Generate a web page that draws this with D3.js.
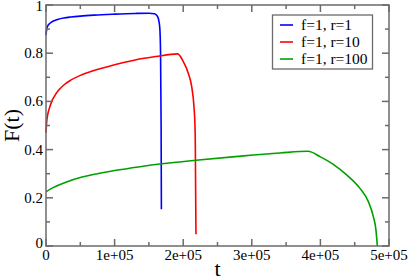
<!DOCTYPE html>
<html>
<head>
<meta charset="utf-8">
<script src="https://cdn.jsdelivr.net/npm/d3@7"></script>
<style>
  body { margin: 0; background: #fff; }
  svg { display: block; font-family: "Liberation Serif", "Times New Roman", serif; }
</style>
</head>
<body>
<svg id="chart"></svg>
<script>
var width = 409, height = 279
var margin = {top: 5, right: 20, bottom: 33, left: 46}

// F(t) curves
var blueT = [0, 1000, 2500, 5000, 8000, 12000, 18000, 26000, 36000, 50000, 70000, 100000, 130000, 150000, 158000, 162000, 164500, 166000, 167000, 167800, 168200]
var blueF = [0.875, 0.9, 0.913, 0.922, 0.929, 0.935, 0.941, 0.946, 0.95, 0.954, 0.958, 0.962, 0.965, 0.966, 0.964, 0.955, 0.935, 0.9, 0.8, 0.5, 0.152]

var redT = [0, 1000, 2500, 5000, 8000, 12000, 18000, 26000, 36000, 50000, 70000, 100000, 130000, 160000, 192000, 200100, 207400, 212400, 215700, 217200, 217600, 218600]
var redF = [0.47, 0.515, 0.545, 0.572, 0.597, 0.62, 0.645, 0.668, 0.688, 0.708, 0.728, 0.752, 0.772, 0.786, 0.797, 0.765, 0.717, 0.661, 0.578, 0.495, 0.44, 0.049]

var greenT = [0, 5000, 14600, 30000, 50000, 75000, 100000, 137000, 168600, 218600, 280000, 341000, 382000, 399400, 418800, 438300, 457700, 469900, 477200, 481000, 483000]
var greenF = [0.225, 0.234, 0.248, 0.266, 0.284, 0.3, 0.313, 0.329, 0.341, 0.356, 0.372, 0.386, 0.393, 0.371, 0.339, 0.295, 0.239, 0.184, 0.122, 0.066, 0]

var names = ["f=1, r=1", "f=1, r=10", "f=1, r=100"]
var colours = ["#0000ff", "#ff0000", "#00a000"]

var xTicks = [0, 100000, 200000, 300000, 400000, 500000]
var xLabels = ["0", "1e+05", "2e+05", "3e+05", "4e+05", "5e+05"]
var yTicks = [0, 0.2, 0.4, 0.6, 0.8, 1]
var yLabels = ["0", "0.2", "0.4", "0.6", "0.8", "1"]

var svg = d3.select("#chart")
    .attr("width", width)
    .attr("height", height)

var x = d3.scaleLinear().domain([0, 500000]).range([margin.left, width - margin.right])
var y = d3.scaleLinear().domain([0, 1]).range([height - margin.bottom, margin.top])

var axisColour = "#6b6b6b"
var x0 = x.range()[0], x1 = x.range()[1], y0 = y.range()[0], y1 = y.range()[1]

var series = [
    blueT.map((t, i) => [t, blueF[i]]),
    redT.map((t, i) => [t, redF[i]]),
    greenT.map((t, i) => [t, greenF[i]])
]

var line = d3.line()
    .x(d => x(d[0]))
    .y(d => y(d[1]))
    .curve(d3.curveMonotoneX)

svg.selectAll("path.curve")
    .data(series)
    .enter()
    .append("path")
    .attr("class", "curve")
    .attr("d", line)
    .attr("fill", "none")
    .attr("stroke", (d, i) => colours[i])
    .attr("stroke-width", 1.6)

// frame with inward ticks on all four sides
var g = svg.append("g").attr("stroke", axisColour).attr("stroke-width", 1.5)

var xMinor = d3.range(50000, 500000, 100000)
var yMinor = d3.range(0.1, 1, 0.2)

g.selectAll("line.xt")
    .data(xTicks.concat(xMinor))
    .enter().append("line")
    .attr("x1", d => x(d)).attr("x2", d => x(d))
    .attr("y1", y0).attr("y2", d => y0 - (d % 100000 == 0 ? 7 : 4))
g.selectAll("line.xtt")
    .data(xTicks.concat(xMinor))
    .enter().append("line")
    .attr("x1", d => x(d)).attr("x2", d => x(d))
    .attr("y1", y1).attr("y2", d => y1 + (d % 100000 == 0 ? 7 : 4))
g.selectAll("line.yt")
    .data(yTicks.map(d => [d, 7]).concat(yMinor.map(d => [d, 4])))
    .enter().append("line")
    .attr("y1", d => y(d[0])).attr("y2", d => y(d[0]))
    .attr("x1", x0).attr("x2", d => x0 + d[1])
g.selectAll("line.ytr")
    .data(yTicks.map(d => [d, 7]).concat(yMinor.map(d => [d, 4])))
    .enter().append("line")
    .attr("y1", d => y(d[0])).attr("y2", d => y(d[0]))
    .attr("x1", x1).attr("x2", d => x1 - d[1])

svg.append("rect")
    .attr("x", x0).attr("y", y1)
    .attr("width", x1 - x0).attr("height", y0 - y1)
    .attr("fill", "none")
    .attr("stroke", axisColour)
    .attr("stroke-width", 1.5)

// tick labels
svg.selectAll("text.xl")
    .data(xTicks)
    .enter().append("text")
    .attr("x", d => x(d))
    .attr("y", y0 + 14)
    .attr("text-anchor", "middle")
    .attr("font-size", 15)
    .text((d, i) => xLabels[i])

svg.selectAll("text.yl")
    .data(yTicks)
    .enter().append("text")
    .attr("x", x0 - 3)
    .attr("y", d => y(d) + (d == 0 ? 2 : d == 1 ? 6 : 5))
    .attr("text-anchor", "end")
    .attr("font-size", 15)
    .text((d, i) => yLabels[i])

svg.append("text")
    .attr("x", (x0 + x1) / 2)
    .attr("y", 276)
    .attr("text-anchor", "middle")
    .attr("font-size", 22)
    .text("t")

svg.append("text")
    .attr("transform", "translate(19," + ((y0 + y1) / 2) + ") rotate(-90)")
    .attr("text-anchor", "middle")
    .attr("font-size", 22)
    .text("F(t)")

// legend
var legend = svg.append("g")
legend.append("rect")
    .attr("x", 272.5).attr("y", 15)
    .attr("width", 100).attr("height", 54)
    .attr("fill", "#fff")
    .attr("stroke", axisColour)
    .attr("stroke-width", 1.3)

var rows = legend.selectAll("g.row")
    .data(names)
    .enter().append("g")
    .attr("transform", (d, i) => "translate(0," + (25 + i * 17) + ")")

rows.append("line")
    .attr("x1", 280).attr("x2", 293)
    .attr("stroke", (d, i) => colours[i])
    .attr("stroke-width", 1.6)

rows.append("text")
    .attr("x", 301)
    .attr("y", 5)
    .attr("font-size", 15.5)
    .text(d => d)
</script>
</body>
</html>
